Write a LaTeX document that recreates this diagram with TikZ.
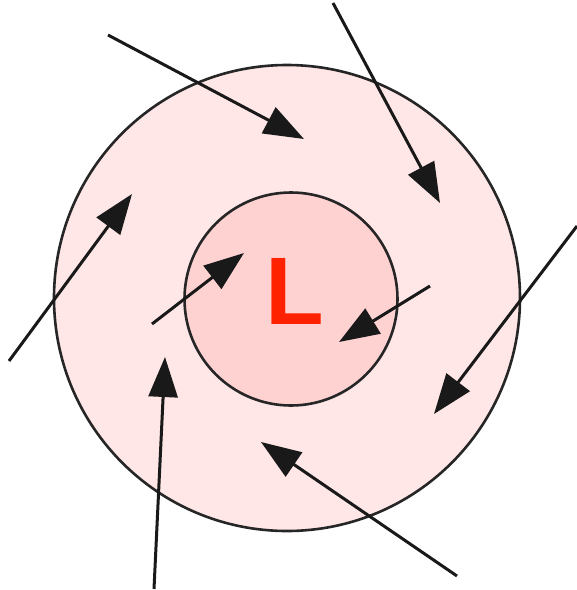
\documentclass[tikz,border=0pt]{standalone}
\usepackage{fontspec}
\setsansfont{Liberation Sans}
\usetikzlibrary{arrows.meta}

\definecolor{outerpink}{HTML}{FFE7E7}
\definecolor{innerpink}{HTML}{FFD2D2}
\definecolor{lowred}{HTML}{FF2200}

\begin{document}
\begin{tikzpicture}[x=1pt, y=-1pt,
    zone/.style={circle, draw=black!85, line width=2.6pt, inner sep=0pt},
    wind/.style={-{Triangle[length=40pt,width=29pt]}, line width=3pt, black!90}]
  \useasboundingbox (0,0) rectangle (577,590);
  % pressure zones
  \node (outer) [zone, fill=outerpink, minimum size=466pt] at (287,298) {};
  \node (inner) [zone, fill=innerpink, minimum size=213pt] at (291,299) {};
  \node (low) [text=lowred, font=\sffamily\bfseries\fontsize{96}{96}\selectfont,
               inner sep=0pt] at (295,291) {L};
  % wind ends
  \coordinate (w1s) at (108,35);   \coordinate (w1e) at (304,139);
  \coordinate (w2s) at (333,3);    \coordinate (w2e) at (440,203);
  \coordinate (w3s) at (577,226);  \coordinate (w3e) at (434,414);
  \coordinate (w4s) at (457,576);  \coordinate (w4e) at (261,442);
  \coordinate (w5s) at (154,589);  \coordinate (w5e) at (165,357);
  \coordinate (w6s) at (9,361);    \coordinate (w6e) at (132,194);
  \coordinate (w7s) at (152,324);  \coordinate (w7e) at (244,253);
  \coordinate (w8s) at (430,286);  \coordinate (w8e) at (339,342);
  \foreach \i in {1,...,8}
    \draw[wind] (w\i s) -- (w\i e);
\end{tikzpicture}
\end{document}
